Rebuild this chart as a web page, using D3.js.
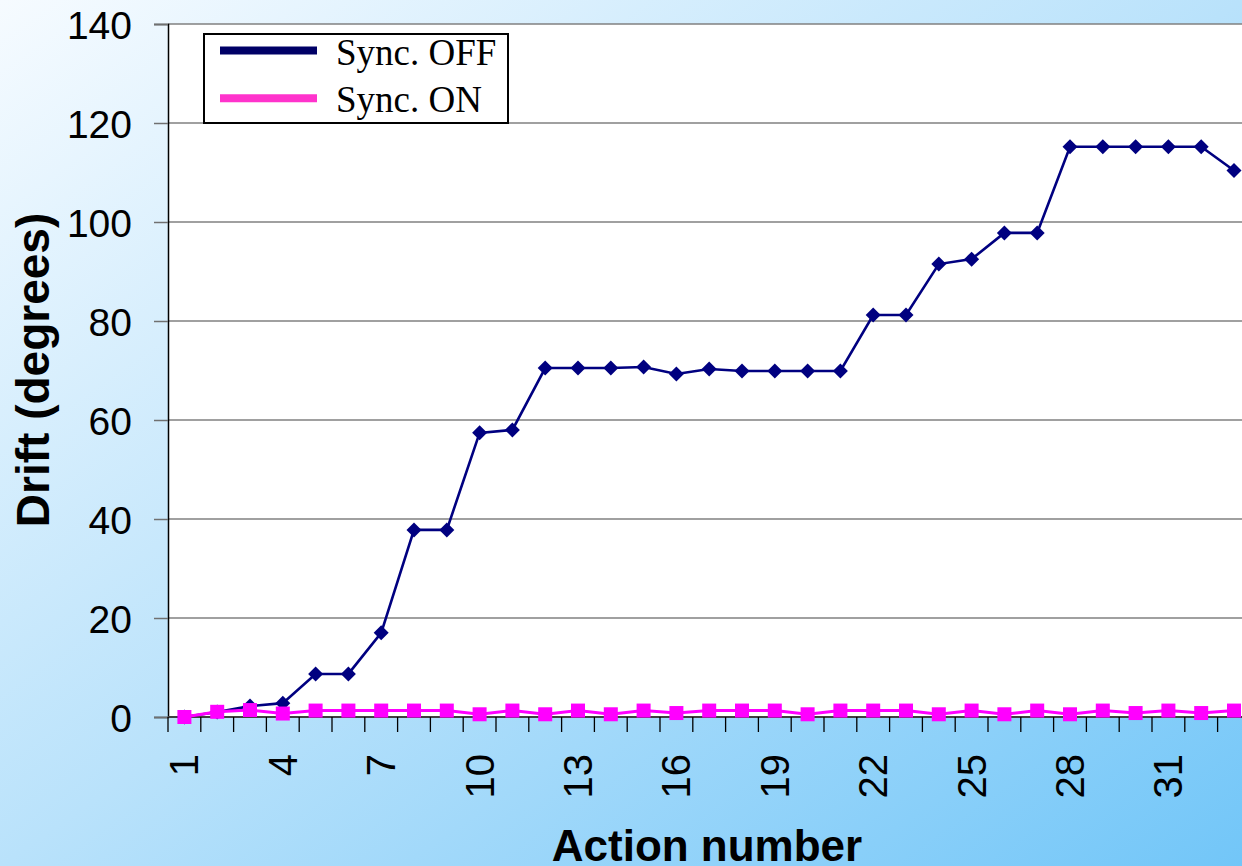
<!DOCTYPE html>
<html>
<head>
<meta charset="utf-8">
<script src="https://cdn.jsdelivr.net/npm/d3@7"></script>
<style>
  html, body { margin: 0; padding: 0; overflow: hidden; }
  #chart { width: 1242px; height: 866px; }
</style>
</head>
<body>
<div id="chart"></div>
<script>
var actions = d3.range(1, 34);
var syncOff = [0, 1, 2.2, 2.8, 8.7, 8.7, 17, 37.8, 37.8, 57.4, 58, 70.5, 70.5, 70.5, 70.7,
               69.3, 70.3, 69.9, 69.9, 69.9, 69.9, 81.2, 81.2, 91.5, 92.5, 97.8, 97.8,
               115.2, 115.2, 115.2, 115.2, 115.2, 110.4];
var syncOn = [0, 1.05, 1.4, 0.7, 1.3, 1.3, 1.3, 1.3, 1.3, 0.55, 1.3, 0.55, 1.3, 0.55, 1.3,
              0.8, 1.3, 1.3, 1.3, 0.55, 1.3, 1.3, 1.3, 0.55, 1.3, 0.55, 1.3, 0.55, 1.3,
              0.8, 1.3, 0.8, 1.3];
var yTicks = [0, 20, 40, 60, 80, 100, 120, 140];
var xTickLabels = [1, 4, 7, 10, 13, 16, 19, 22, 25, 28, 31];
var seriesNames = ["Sync. OFF", "Sync. ON"];

function init() {
    var w = 1242, h = 866;
    var left = 168, top = 24, bottom = 717;
    var band = 32.8;
    var right = left + band * actions.length;
    var sans = "Liberation Sans, Arial, sans-serif";

    var svg = d3.select("#chart").append("svg")
        .attr("width", w)
        .attr("height", h);

    var grad = svg.append("defs").append("linearGradient")
        .attr("id", "bg")
        .attr("x1", "0").attr("y1", "0")
        .attr("x2", "1").attr("y2", "1");
    grad.append("stop").attr("offset", "0%").attr("stop-color", "#f6fbff");
    grad.append("stop").attr("offset", "50%").attr("stop-color", "#b9e2fb");
    grad.append("stop").attr("offset", "100%").attr("stop-color", "#72c6f8");

    svg.append("rect").attr("width", w).attr("height", h).attr("fill", "url(#bg)");

    var x = d3.scaleBand()
        .domain(actions)
        .range([left, right]);
    var y = d3.scaleLinear()
        .domain([0, 140])
        .range([bottom, top]);
    var cx = function(d, i) { return x(actions[i]) + x.bandwidth() / 2; };

    // plot area
    svg.append("rect")
        .attr("x", left).attr("y", top)
        .attr("width", right - left).attr("height", bottom - top)
        .attr("fill", "white");

    // gridlines
    svg.append("g").selectAll("line")
        .data(yTicks)
        .enter().append("line")
        .attr("x1", left).attr("x2", right)
        .attr("y1", function(d) { return y(d); })
        .attr("y2", function(d) { return y(d); })
        .attr("stroke", "#808080")
        .attr("stroke-width", 1.5);

    // y axis
    var yAxis = svg.append("g")
        .attr("transform", "translate(" + left + ",0)")
        .call(d3.axisLeft(y).tickValues(yTicks).tickSize(14).tickPadding(22));
    yAxis.select(".domain").attr("stroke", "black").attr("stroke-width", 1.5);
    yAxis.selectAll(".tick line").attr("stroke", "#707070").attr("stroke-width", 1.5);
    yAxis.selectAll("text")
        .attr("font-family", sans)
        .attr("font-size", 39)
        .attr("fill", "black")
        .attr("dy", "0.36em");

    // x axis, ticks on category boundaries
    var xg = svg.append("g");
    xg.append("line")
        .attr("x1", left).attr("x2", right)
        .attr("y1", bottom).attr("y2", bottom)
        .attr("stroke", "#404040").attr("stroke-width", 2);
    xg.selectAll("line.tk")
        .data(actions)
        .enter().append("line")
        .attr("class", "tk")
        .attr("x1", function(d) { return x(d); })
        .attr("x2", function(d) { return x(d); })
        .attr("y1", bottom).attr("y2", bottom + 15)
        .attr("stroke", "black").attr("stroke-width", 1.3);
    xg.selectAll("text")
        .data(xTickLabels)
        .enter().append("text")
        .attr("transform", function(d) {
            return "translate(" + (x(d) + x.bandwidth() / 2 + 14) + "," + (bottom + 37) + ") rotate(-90)";
        })
        .attr("text-anchor", "end")
        .attr("font-family", sans)
        .attr("font-size", 40)
        .text(function(d) { return d; });

    // series
    var line = d3.line()
        .x(cx)
        .y(function(d) { return y(d); });

    svg.append("path")
        .datum(syncOff)
        .attr("d", line)
        .attr("fill", "none")
        .attr("stroke", "#000080")
        .attr("stroke-width", 2.6);
    svg.append("g").selectAll("path")
        .data(syncOff)
        .enter().append("path")
        .attr("d", "M0,-7.5L7.5,0L0,7.5L-7.5,0Z")
        .attr("transform", function(d, i) { return "translate(" + cx(d, i) + "," + y(d) + ")"; })
        .attr("fill", "#000080");

    svg.append("path")
        .datum(syncOn)
        .attr("d", line)
        .attr("fill", "none")
        .attr("stroke", "#ff00ff")
        .attr("stroke-width", 3);
    svg.append("g").selectAll("rect")
        .data(syncOn)
        .enter().append("rect")
        .attr("x", function(d, i) { return cx(d, i) - 7; })
        .attr("y", function(d) { return y(d) - 7; })
        .attr("width", 14).attr("height", 14)
        .attr("fill", "#ff00ff");

    // legend
    var lg = svg.append("g");
    lg.append("rect")
        .attr("x", 204).attr("y", 34)
        .attr("width", 304).attr("height", 89)
        .attr("fill", "white")
        .attr("stroke", "black").attr("stroke-width", 2);
    var colors = ["#000066", "#ff33cc"];
    seriesNames.forEach(function(name, i) {
        var ly = 50.5 + i * 47.8;
        lg.append("line")
            .attr("x1", 220).attr("x2", 317)
            .attr("y1", ly).attr("y2", ly)
            .attr("stroke", colors[i]).attr("stroke-width", 8);
        lg.append("text")
            .attr("x", 336).attr("y", ly + 14)
            .attr("font-family", "Liberation Serif, Times New Roman, serif")
            .attr("font-size", 37)
            .text(name);
    });

    // axis titles
    svg.append("text")
        .attr("transform", "translate(49," + 370 + ") rotate(-90)")
        .attr("text-anchor", "middle")
        .attr("font-family", sans)
        .attr("font-weight", "bold")
        .attr("font-size", 46)
        .text("Drift (degrees)");
    svg.append("text")
        .attr("x", 707).attr("y", 861)
        .attr("text-anchor", "middle")
        .attr("font-family", sans)
        .attr("font-weight", "bold")
        .attr("font-size", 44)
        .text("Action number");
}
window.onload = init;
</script>
</body>
</html>
